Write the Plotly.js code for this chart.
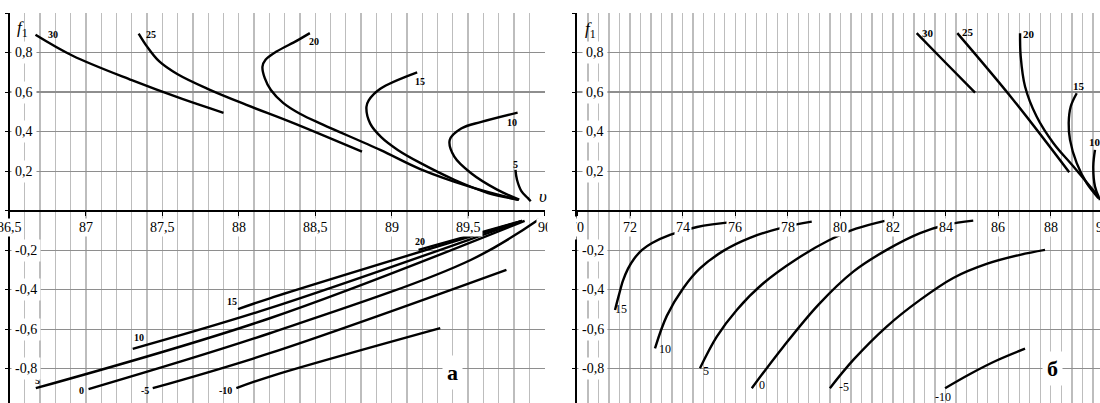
<!DOCTYPE html>
<html>
<head>
<meta charset="utf-8">
<script src="https://cdn.plot.ly/plotly-3.0.1.min.js"></script>
<style>
  html, body { margin: 0; padding: 0; background: #fff; }
  #plot-area { width: 1100px; height: 403px; }
</style>
</head>
<body>
<div id="plot-area"></div>
<script>
// panel "а", upper family (f1 > 0)
const aUpLevels = ["30", "25", "20", "15", "10", "5"];
const aUpX = [
  [86.67, 86.91, 87.30, 87.63, 87.90],
  [87.345, 87.40, 87.48, 87.60, 87.80, 88.05, 88.35, 88.806],
  [88.465, 88.378, 88.247, 88.175, 88.155, 88.17, 88.21, 88.29, 88.40, 88.55, 88.925, 89.187, 89.515, 89.83],
  [89.167, 88.926, 88.85, 88.835, 88.86, 88.93, 89.04, 89.19, 89.41, 89.63, 89.83],
  [89.824, 89.587, 89.455, 89.38, 89.41, 89.52, 89.69, 89.835],
  [89.81, 89.82, 89.85, 89.89, 89.91]
];
const aUpY = [
  [0.89, 0.785, 0.66, 0.565, 0.495],
  [0.896, 0.83, 0.755, 0.69, 0.615, 0.535, 0.445, 0.298],
  [0.898, 0.859, 0.805, 0.763, 0.729, 0.67, 0.61, 0.545, 0.49, 0.435, 0.307, 0.21, 0.12, 0.054],
  [0.70, 0.617, 0.558, 0.524, 0.44, 0.373, 0.307, 0.24, 0.156, 0.089, 0.055],
  [0.496, 0.449, 0.415, 0.357, 0.273, 0.189, 0.106, 0.055],
  [0.206, 0.156, 0.097, 0.064, 0.047]
];
const aUpLabelShift = [[18, 0], [12, -1], [4, -8], [3, -9], [-6, -10], [0, 5]];

// panel "а", lower family (f1 < 0)
const aDnLevels = ["20", "15", "10", "5", "0", "-5", "-10"];
const aDnX = [
  [89.176, 89.854],
  [87.995, 88.203, 89.854],
  [87.306, 88.203, 89.854],
  [86.672, 88.203, 89.87],
  [87.017, 88.203, 89.517, 89.962],
  [87.437, 88.203, 89.751],
  [87.984, 88.203, 89.318]
];
const aDnY = [
  [-0.199, -0.052],
  [-0.499, -0.444, -0.052],
  [-0.700, -0.494, -0.052],
  [-0.899, -0.545, -0.052],
  [-0.904, -0.621, -0.25, -0.045],
  [-0.899, -0.722, -0.300],
  [-0.899, -0.840, -0.595]
];
const aDnLabelShift = [[1, 8], [-6, 8], [6, 11], [2, 8], [-7, -1], [-8, -2], [-11, -2]];

// panel "б", upper family
const bUpLevels = ["30", "25", "20", "15", "10"];
const bUpX = [
  [82.90, 84.01, 85.12],
  [84.445, 86.575, 88.70],
  [86.83, 86.855, 87.02, 87.46, 88.10, 88.86, 89.81],
  [88.985, 88.757, 88.68, 88.73, 88.985, 89.365, 89.81],
  [89.68, 89.615, 89.68, 89.87]
];
const bUpY = [
  [0.898, 0.747, 0.597],
  [0.898, 0.560, 0.194],
  [0.898, 0.78, 0.628, 0.476, 0.341, 0.223, 0.071],
  [0.594, 0.527, 0.443, 0.358, 0.24, 0.139, 0.063],
  [0.307, 0.223, 0.122, 0.054]
];
const bUpLabelShift = [[11, 0], [11, 1], [9, -1], [2, 7], [0, 8]];

// panel "б", lower family
const bDnLevels = ["15", "10", "5", "0", "-5", "-10"];
const bDnX = [
  [71.43, 71.58, 71.73, 71.92, 72.15, 72.46, 72.84, 73.52, 74.55, 75.99],
  [72.95, 73.40, 74.03, 74.66, 75.55, 76.56, 77.83, 78.91],
  [74.66, 75.30, 76.06, 77.07, 78.34, 79.53, 80.59, 81.69],
  [76.63, 77.83, 79.16, 80.49, 81.76, 83.03, 84.04, 85.05],
  [79.60, 80.49, 81.76, 83.03, 84.29, 85.56, 86.83, 87.78],
  [83.98, 84.93, 85.94, 87.02]
];
const bDnY = [
  [-0.503, -0.427, -0.356, -0.295, -0.245, -0.199, -0.164, -0.123, -0.083, -0.056],
  [-0.697, -0.533, -0.392, -0.293, -0.204, -0.138, -0.085, -0.056],
  [-0.798, -0.638, -0.503, -0.368, -0.245, -0.153, -0.092, -0.052],
  [-0.899, -0.689, -0.477, -0.309, -0.199, -0.114, -0.072, -0.051],
  [-0.899, -0.756, -0.587, -0.452, -0.341, -0.270, -0.224, -0.199],
  [-0.899, -0.827, -0.759, -0.699]
];
const bDnLabelShift = [[6, 1], [10, -1], [6, -3], [10, 3], [14, 1], [-2, -9]];

// ticks
const aXTicks = [86.5, 87, 87.5, 88, 88.5, 89, 89.5, 90];
const aXText = ["86,5", "87", "87,5", "88", "88,5", "89", "89,5", "90"];
const bXTicks = [70, 72, 74, 76, 78, 80, 82, 84, 86, 88, 90];
const bXText = ["70", "72", "74", "76", "78", "80", "82", "84", "86", "88", "90"];
const yTicks = [0.8, 0.6, 0.4, 0.2, -0.2, -0.4, -0.6, -0.8];
const yText = ["0,8", "0,6", "0,4", "0,2", "-0,2", "-0,4", "-0,6", "-0,8"];

const W = 1100, H = 403, TOP = 13;
const aDomain = [9.5 / W, 544.5 / W], aRange = [86.5, 90];
const bDomain = [577.4 / W, 1], bRange = [70, 89.87];

const SERIF = "Liberation Serif, Times New Roman, serif";
let plots = [];
let notes = [];

function addFamily(xs, ys, levels, shifts, xr, yr, font) {
  for (let i = 0; i < xs.length; i++) {
    plots.push({
      x: xs[i], y: ys[i], xaxis: xr, yaxis: yr,
      mode: "lines", type: "scatter", hoverinfo: "skip",
      line: { color: "#000", width: 2.4, shape: "spline", smoothing: 1 },
      showlegend: false,
    });
    notes.push({
      x: xs[i][0], y: ys[i][0], xref: xr, yref: yr,
      text: levels[i], showarrow: false,
      xshift: shifts[i][0], yshift: shifts[i][1],
      font: font,
    });
  }
}

const smallBold = { family: SERIF, size: 10, color: "#000", weight: "bold" };
addFamily(aUpX, aUpY, aUpLevels, aUpLabelShift, "x", "y", smallBold);
addFamily(aDnX, aDnY, aDnLevels, aDnLabelShift, "x", "y", smallBold);
addFamily(bUpX, bUpY, bUpLevels, bUpLabelShift, "x2", "y2", { family: SERIF, size: 11, color: "#000", weight: "bold" });
addFamily(bDnX, bDnY, bDnLevels, bDnLabelShift, "x2", "y2", { family: SERIF, size: 12, color: "#000" });

// tick labels with white boxes, sitting on the axes
const tickFont = { family: SERIF, size: 14, color: "#000" };
function xLabels(vals, texts, xr, yr, domain, range) {
  const pxPerUnit = (domain[1] - domain[0]) * W / (range[1] - range[0]);
  for (let i = 0; i < vals.length; i++) {
    // a tick just past the range end is pinned to the end and shifted out
    const v = Math.min(vals[i], range[1]);
    notes.push({ x: v, y: 0, xref: xr, yref: yr, text: texts[i], showarrow: false,
      xshift: (vals[i] - v) * pxPerUnit,
      yshift: -17, bgcolor: "#fff", borderpad: 1, font: tickFont });
  }
}
function yLabels(x0, xr, yr, posShift, negShift) {
  for (let i = 0; i < yTicks.length; i++)
    notes.push({ x: x0, y: yTicks[i], xref: xr, yref: yr, text: yText[i], showarrow: false,
      xanchor: "right", xshift: yTicks[i] > 0 ? posShift : negShift,
      bgcolor: "#fff", borderpad: 3, font: tickFont });
}
xLabels(aXTicks, aXText, "x", "y", aDomain, aRange);
xLabels(bXTicks, bXText, "x2", "y2", bDomain, bRange);
yLabels(86.5, "x", "y", 27, 31);
yLabels(70, "x2", "y2", 31, 31);

// the two panels were cut apart: blank strip between them over the tick labels
notes.push({ x: 561.5 / W, y: (H - 228) / (H - TOP), xref: "paper", yref: "paper",
  text: " ", showarrow: false, width: 28, height: 22, bgcolor: "#fff", borderpad: 0 });

// axis names and panel letters
const nameFont = { family: SERIF, size: 17, color: "#000" };
notes.push({ x: 86.582, y: 0.92, xref: "x", yref: "y", text: "<i>f</i><sub>1</sub>", showarrow: false, font: nameFont });
notes.push({ x: 70.48, y: 0.915, xref: "x2", yref: "y2", text: "<i>f</i><sub>1</sub>", showarrow: false, font: nameFont });
notes.push({ x: 89.987, y: 0.069, xref: "x", yref: "y", text: "<i>υ</i>", showarrow: false, font: nameFont });
notes.push({ x: 89.40, y: -0.82, xref: "x", yref: "y", text: "<b>а</b>", showarrow: false,
  bgcolor: "#fff", borderpad: 4, font: { family: SERIF, size: 22, color: "#000" } });
notes.push({ x: 88.05, y: -0.80, xref: "x2", yref: "y2", text: "<b>б</b>", showarrow: false,
  bgcolor: "#fff", borderpad: 4, font: { family: SERIF, size: 22, color: "#000" } });

const VGRID = "#bdbdbd";
const HGRID = "#8e8e8e";
const Y0 = (H - 210.7) / (H - TOP); // paper fraction of f1 = 0

function xAxis(domain, range, ticks, minorStep) {
  return {
    domain: domain, range: range, anchor: "free", position: Y0,
    tickvals: ticks, showticklabels: false, ticks: "outside", ticklen: 4, tickcolor: "#000",
    showgrid: true, gridcolor: VGRID, gridwidth: 1.3,
    minor: { dtick: minorStep, tick0: range[0], showgrid: true, gridcolor: VGRID, gridwidth: 1.3 },
    zeroline: false, showline: false, fixedrange: true,
  };
}
function yAxis(anchorX) {
  return {
    domain: [0, 1], range: [-0.974, 1.0], anchor: anchorX,
    tick0: 0, dtick: 0.2, showticklabels: false, ticks: "outside", ticklen: 3, tickcolor: "#000",
    showgrid: true, gridcolor: HGRID, gridwidth: 1.1,
    zeroline: true, zerolinecolor: "#000", zerolinewidth: 2,
    showline: true, linecolor: "#000", linewidth: 2, fixedrange: true,
  };
}

let layout = {
  width: W, height: H,
  margin: { l: 0, r: 0, t: TOP, b: 0 },
  paper_bgcolor: "#fff", plot_bgcolor: "#fff",
  showlegend: false,
  xaxis: xAxis(aDomain, aRange, aXTicks, 0.1),
  yaxis: yAxis("x"),
  xaxis2: xAxis(bDomain, bRange, bXTicks, 0.4),
  yaxis2: yAxis("x2"),
  annotations: notes,
};

Plotly.newPlot("plot-area", plots, layout, { staticPlot: true });
</script>
</body>
</html>
